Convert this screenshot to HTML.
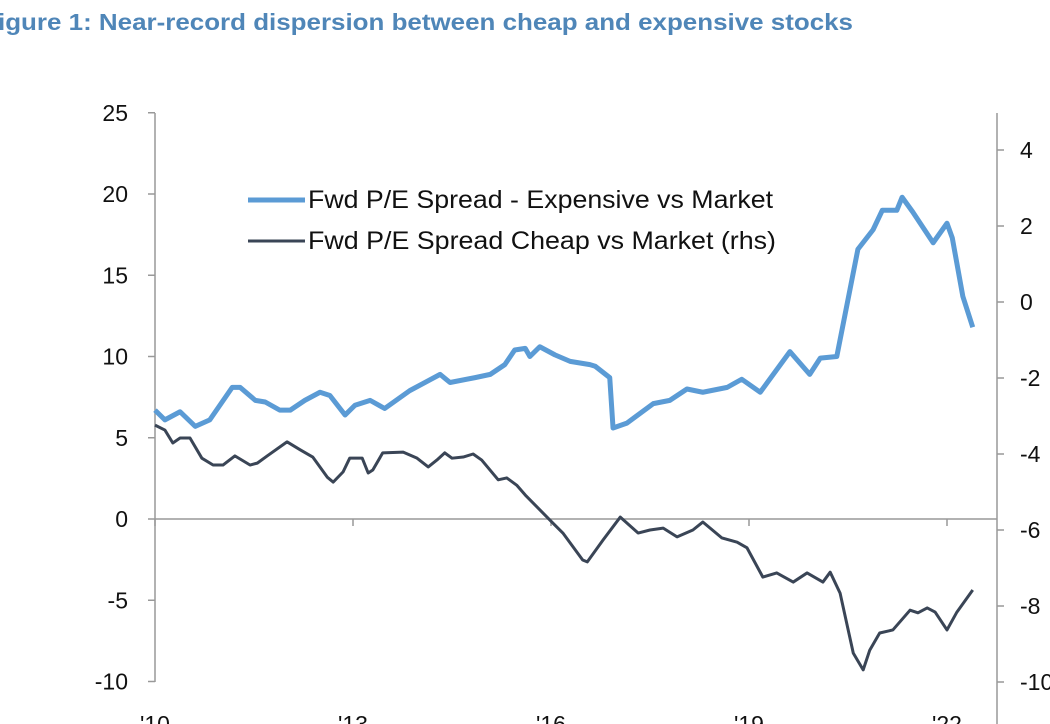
<!DOCTYPE html>
<html><head><meta charset="utf-8"><style>
body{margin:0;background:#fff;width:1050px;height:724px;overflow:hidden;font-family:"Liberation Sans",sans-serif}
svg{position:absolute;left:0;top:0}
</style></head><body>
<svg width="1050" height="724">
<text x="-2" y="30" font-size="23" font-weight="bold" fill="#4f86b8" textLength="855" lengthAdjust="spacingAndGlyphs">igure 1: Near-record dispersion between cheap and expensive stocks</text>
<g id="axes"></g>
<g id="series"></g>
<g>
<line x1="248" y1="200" x2="305" y2="200" stroke="#5b9bd5" stroke-width="5"/>
<text x="308" y="208" font-size="25" fill="#111" textLength="465" lengthAdjust="spacingAndGlyphs">Fwd P/E Spread - Expensive vs Market</text>
<line x1="248" y1="241" x2="305" y2="241" stroke="#3a4556" stroke-width="3"/>
<text x="308" y="249" font-size="25" fill="#111" textLength="468" lengthAdjust="spacingAndGlyphs">Fwd P/E Spread Cheap vs Market (rhs)</text>
</g>
</svg>
<script>
const expYears=[2010.00,2010.15,2010.38,2010.61,2010.83,2011.17,2011.29,2011.52,2011.67,2011.89,2012.05,2012.27,2012.50,2012.65,2012.88,2013.03,2013.26,2013.48,2013.86,2014.32,2014.47,2014.85,2015.08,2015.30,2015.45,2015.61,2015.68,2015.83,2016.06,2016.29,2016.59,2016.67,2016.89,2016.94,2017.15,2017.55,2017.80,2018.06,2018.30,2018.67,2018.89,2019.17,2019.62,2019.92,2020.08,2020.33,2020.65,2020.88,2021.02,2021.24,2021.32,2021.48,2021.79,2022.00,2022.08,2022.24,2022.39];
const expValues=[6.7,6.1,6.6,5.7,6.1,8.1,8.1,7.3,7.2,6.7,6.7,7.3,7.8,7.6,6.4,7.0,7.3,6.8,7.9,8.9,8.4,8.7,8.9,9.5,10.4,10.5,10.0,10.6,10.1,9.7,9.5,9.4,8.7,5.6,5.9,7.1,7.3,8.0,7.8,8.1,8.6,7.8,10.3,8.9,9.9,10.0,16.6,17.8,19.0,19.0,19.8,18.9,17.0,18.2,17.3,13.7,11.8];
const cheapYears=[2010.00,2010.15,2010.27,2010.38,2010.53,2010.71,2010.88,2011.03,2011.21,2011.44,2011.55,2011.70,2012.00,2012.20,2012.39,2012.61,2012.70,2012.85,2012.95,2013.14,2013.23,2013.30,2013.45,2013.76,2013.97,2014.14,2014.27,2014.39,2014.50,2014.67,2014.82,2014.95,2015.20,2015.33,2015.48,2015.61,2016.03,2016.18,2016.48,2016.55,2016.79,2017.05,2017.32,2017.50,2017.70,2017.91,2018.15,2018.30,2018.59,2018.82,2018.97,2019.21,2019.42,2019.67,2019.88,2020.12,2020.23,2020.38,2020.58,2020.73,2020.83,2020.98,2021.18,2021.44,2021.56,2021.70,2021.82,2022.00,2022.15,2022.39];
const cheapValues=[-3.24,-3.37,-3.71,-3.58,-3.58,-4.11,-4.29,-4.29,-4.05,-4.29,-4.24,-4.05,-3.68,-3.89,-4.08,-4.61,-4.74,-4.47,-4.11,-4.11,-4.50,-4.42,-3.97,-3.95,-4.11,-4.34,-4.16,-3.97,-4.11,-4.08,-4.00,-4.16,-4.68,-4.63,-4.82,-5.08,-5.82,-6.08,-6.79,-6.84,-6.26,-5.66,-6.08,-6.00,-5.95,-6.18,-6.00,-5.79,-6.21,-6.32,-6.47,-7.24,-7.13,-7.37,-7.13,-7.37,-7.11,-7.66,-9.24,-9.68,-9.16,-8.71,-8.63,-8.11,-8.18,-8.05,-8.16,-8.63,-8.16,-7.58];
const leftTicks=[25,20,15,10,5,0,-5,-10];
const rightTicks=[4,2,0,-2,-4,-6,-8,-10];
const xTickYears=[2010,2013,2016,2019,2022];
const xTickLabels=["'10","'13","'16","'19","'22"];

const NS="http://www.w3.org/2000/svg";
const X=y=>155+(y-2010)*66;
const YL=v=>519-v*16.25;
const YR=v=>302-v*38;
function mk(t,a,p){const e=document.createElementNS(NS,t);for(const k in a)e.setAttribute(k,a[k]);p.appendChild(e);return e;}
const ax=document.getElementById('axes'), se=document.getElementById('series');
let e;
e=mk('line',{x1:155,y1:113,x2:155,y2:682,stroke:'#999','stroke-width':1.5},ax);


e=mk('line',{x1:997,y1:113,x2:997,y2:724,stroke:'#999','stroke-width':1.5},ax);


e=mk('line',{x1:155,y1:YL(0),x2:997,y2:YL(0),stroke:'#999','stroke-width':1.5},ax);


leftTicks.forEach(v=>{
  mk('line',{x1:148,y1:YL(v),x2:155,y2:YL(v),stroke:'#999','stroke-width':1.5},ax);
  e=mk('text',{x:128,y:YL(v)+8,'text-anchor':'end','font-size':23,fill:'#111'},ax);
  e.textContent=v;
  
  
});
rightTicks.forEach(v=>{
  mk('line',{x1:997,y1:YR(v),x2:1004,y2:YR(v),stroke:'#999','stroke-width':1.5},ax);
  e=mk('text',{x:1020,y:YR(v)+8,'font-size':23,fill:'#111'},ax);
  e.textContent=v;
  
  
});
xTickYears.forEach((yr,i)=>{
  mk('line',{x1:X(yr),y1:YL(0),x2:X(yr),y2:YL(0)+7,stroke:'#999','stroke-width':1.5},ax);
  e=mk('text',{x:X(yr),y:732,'text-anchor':'middle','font-size':23,fill:'#111'},ax);
  e.textContent=xTickLabels[i];
  
  
});
e=mk('polyline',{points:expYears.map((y,i)=>X(y)+','+YL(expValues[i])).join(' '),fill:'none',stroke:'#5b9bd5','stroke-width':5,'stroke-linejoin':'round'},se);


e=mk('polyline',{points:cheapYears.map((y,i)=>X(y)+','+YR(cheapValues[i])).join(' '),fill:'none',stroke:'#3a4556','stroke-width':3,'stroke-linejoin':'round'},se);


</script>
</body></html>
